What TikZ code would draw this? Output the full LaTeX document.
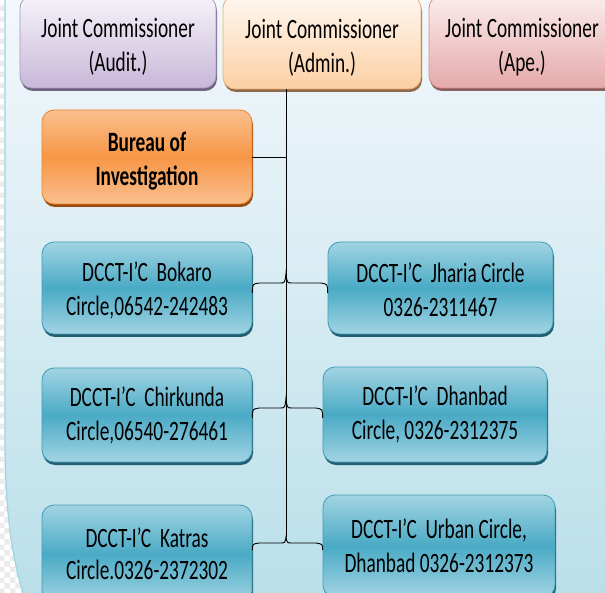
\documentclass[tikz,border=0pt]{standalone}
\usepackage{fontspec}
\setmainfont{Carlito}[FakeStretch=0.69]
\usetikzlibrary{patterns,calc}
\definecolor{bgtop}{HTML}{F3F8FB}
\definecolor{bgbot}{HTML}{BADFEA}
\definecolor{panelline}{HTML}{9FD4E3}
\definecolor{bluelt}{HTML}{A2D4E3}
\definecolor{bluemid}{HTML}{4AAAC5}
\definecolor{bluedraw}{HTML}{3F9DB8}
\definecolor{blueshadow}{HTML}{215E6E}
\definecolor{orlt}{HTML}{FAC08F}
\definecolor{ormid}{HTML}{F79646}
\definecolor{ordraw}{HTML}{E9822E}
\definecolor{orshadow}{HTML}{9A4A0C}
\definecolor{audtop}{HTML}{F6F3F9}
\definecolor{audbot}{HTML}{C8B8D9}
\definecolor{auddraw}{HTML}{A898C4}
\definecolor{audshadow}{HTML}{6E6480}
\definecolor{admtop}{HTML}{FFF7F0}
\definecolor{admbot}{HTML}{FBD0A4}
\definecolor{admdraw}{HTML}{EDAE76}
\definecolor{admshadow}{HTML}{8E6A4C}
\definecolor{apetop}{HTML}{FBECEC}
\definecolor{apebot}{HTML}{E5AAAA}
\definecolor{apedraw}{HTML}{D38E8E}
\definecolor{apeshadow}{HTML}{8A5E5E}
\newcommand\lw[2][3pt]{\raisebox{-#1}[\height][\depth]{#2}}
\newcommand\mybrace[3]{%
  \draw[conn] (#1) .. controls ($(#1)+(0,-9)$) .. ($(#1)+(7,-10)$)
    -- ($(#2)+(-6,10)$) .. controls ($(#2)+(-1,10)$) .. (#2)
    .. controls ($(#2)+(1,10)$) .. ($(#2)+(6,10)$)
    -- ($(#3)+(-7,-10)$) .. controls ($(#3)+(0,-9)$) .. (#3);}
\begin{document}
\begin{tikzpicture}[x=1pt,y=-1pt,
  box/.style={draw, rounded corners=12pt, inner sep=0pt, align=center,
    font=\fontsize{28}{34}\selectfont, line width=0.8pt},
  bluebox/.style={box, draw=bluedraw, top color=bluelt, bottom color=bluelt, middle color=bluemid,
    preaction={fill=blueshadow, transform canvas={yshift=-3pt, xshift=1pt}}},
  orbox/.style={box, draw=ordraw, top color=orlt, bottom color=orlt, middle color=ormid,
    font=\fontsize{28}{34}\selectfont\bfseries,
    preaction={fill=orshadow, transform canvas={yshift=-3pt, xshift=1pt}}},
  topbox/.style n args={4}{box, draw=#3, top color=#1, bottom color=#2,
    preaction={fill=#4, transform canvas={yshift=-3pt, xshift=1pt}}},
  conn/.style={draw=black, line width=0.9pt}]
\useasboundingbox (0,0) rectangle (605,593);
% background
\fill[white] (0,0) rectangle (605,593);
\fill[pattern=checkerboard, pattern color=black!8] (0,0) rectangle (605,593);
\path[top color=bgtop, bottom color=bgbot] (5,-2) -- (5,440)
  .. controls (5,520) and (14,565) .. (24,596) -- (608,596) -- (608,-2) -- cycle;
\draw[panelline, line width=1.2pt] (5,-2) -- (5,440) .. controls (5,520) and (14,565) .. (24,596);
% top boxes
\node[topbox={audtop}{audbot}{auddraw}{audshadow}, minimum width=196pt, minimum height=92pt]
  (aud) at (118,42) {\lw[5pt]{Joint Commissioner}\\\lw[5pt]{(Audit.)}};
\node[topbox={admtop}{admbot}{admdraw}{admshadow}, minimum width=198pt, minimum height=93pt]
  (adm) at (322,42.5) {\lw[5pt]{Joint Commissioner}\\\lw[5pt]{(Admin.)}};
\node[topbox={apetop}{apebot}{apedraw}{apeshadow}, minimum width=186pt, minimum height=92pt]
  (ape) at (522,42) {\lw[5pt]{Joint Commissioner}\\\lw[5pt]{(Ape.)}};
% bureau
\node[orbox, minimum width=210pt, minimum height=94pt] (bur) at (147,157)
  {\lw[4pt]{Bureau of}\\\lw[4pt]{Investigation}};
% circles
\node[bluebox, minimum width=210pt, minimum height=92pt] (bok) at (147,288)
  {\lw[2pt]{DCCT-I’C\ \ Bokaro}\\\lw[2pt]{Circle,06542-242483}};
\node[bluebox, minimum width=225pt, minimum height=92pt] (jha) at (440.5,288)
  {\lw[2pt]{DCCT-I’C\ \ Jharia Circle}\\\lw[2pt]{0326-2311467}};
\node[bluebox, minimum width=210pt, minimum height=94pt] (chi) at (147,415)
  {DCCT-I’C\ \ Chirkunda\\Circle,06540-276461};
\node[bluebox, minimum width=224pt, minimum height=95pt] (dha) at (435,414.5)
  {DCCT-I’C\ \ Dhanbad\\Circle, 0326-2312375};
\node[bluebox, minimum width=210pt, minimum height=98pt] (kat) at (147,554)
  {\lw[1pt]{DCCT-I’C\ \ Katras}\\\lw[-1pt]{Circle.0326-2372302}};
\node[bluebox, minimum width=232pt, minimum height=102pt] (urb) at (439,546)
  {DCCT-I’C\ \ Urban Circle,\\Dhanbad 0326-2312373};
% connectors
\coordinate (trunk) at (286,89);
\coordinate (tip1) at (286,273);
\coordinate (tip2) at (286,398);
\coordinate (tip3) at (286,537);
\draw[conn] (trunk) -- (tip3);
\draw[conn] (bur.east) -- (bur.east -| trunk);
\coordinate (l1) at ($(bok.east)+(0,5)$);
\coordinate (r1) at (jha.west |- l1);
\mybrace{l1}{tip1}{r1}
\coordinate (l2) at ($(chi.east)+(0,3)$);
\coordinate (r2) at (dha.west |- l2);
\mybrace{l2}{tip2}{r2}
\coordinate (l3) at ($(kat.east)+(0,-4)$);
\coordinate (r3) at (urb.west |- l3);
\draw[conn] (l3) .. controls ($(l3)+(0,-6)$) .. ($(l3)+(7,-7)$) -- ($(tip3)+(-6,6)$)
  .. controls ($(tip3)+(-1,6)$) .. (tip3)
  .. controls ($(tip3)+(1,6)$) .. ($(tip3)+(6,6)$) -- ($(r3)+(-7,-7)$)
  .. controls ($(r3)+(0,-6)$) .. (r3);
\end{tikzpicture}
\end{document}
